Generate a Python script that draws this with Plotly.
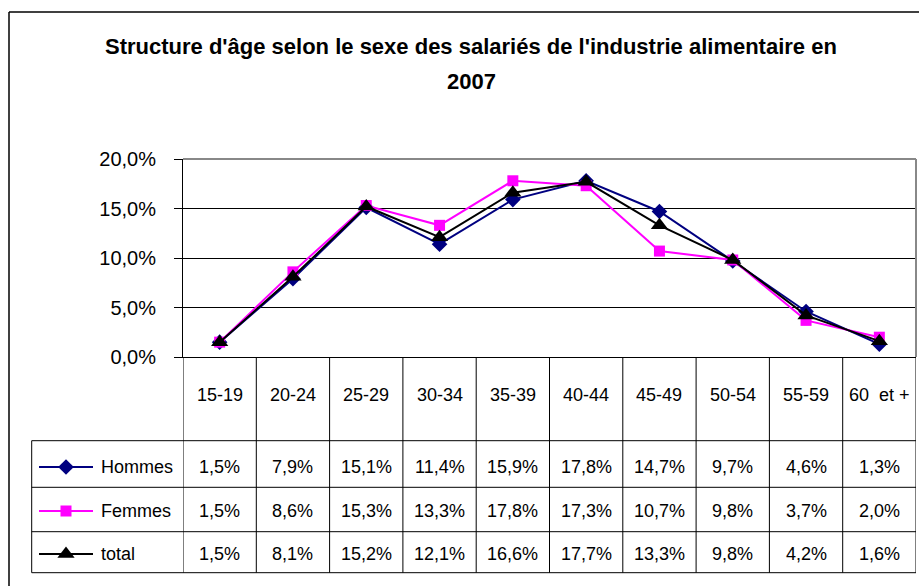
import plotly.graph_objects as go

# ---- data ----
categories = ["15-19", "20-24", "25-29", "30-34", "35-39", "40-44", "45-49", "50-54", "55-59", "60\u00a0 et +"]
hommes = [1.5, 7.9, 15.1, 11.4, 15.9, 17.8, 14.7, 9.7, 4.6, 1.3]
femmes = [1.5, 8.6, 15.3, 13.3, 17.8, 17.3, 10.7, 9.8, 3.7, 2.0]
total = [1.5, 8.1, 15.2, 12.1, 16.6, 17.7, 13.3, 9.8, 4.2, 1.6]
series_names = ["Hommes", "Femmes", "total"]
y_ticks = [0, 5, 10, 15, 20]
y_ticktext = ["0,0%", "5,0%", "10,0%", "15,0%", "20,0%"]
title_line1 = "Structure d'âge selon le sexe des salariés de l'industrie alimentaire en"
title_line2 = "2007"

W, H = 919, 586
def fx(x):
    return x / W
def fy(y):
    return 1 - y / H

FONT = "Liberation Sans, Arial, sans-serif"
styles = [
    dict(color="#000080", symbol="diamond", size=12),
    dict(color="#FF00FF", symbol="square", size=11),
    dict(color="#000000", symbol="triangle-up", size=15),
]
series = [hommes, femmes, total]
xs = list(range(len(categories)))

fig = go.Figure()
for name, vals, st in zip(series_names, series, styles):
    fig.add_trace(go.Scatter(
        x=xs, y=vals, mode="lines+markers", name=name,
        line=dict(color=st["color"], width=2),
        marker=dict(symbol=st["symbol"], size=st["size"], color=st["color"],
                    line=dict(width=0)),
        showlegend=False, hoverinfo="skip", cliponaxis=False,
    ))

# legend keys inside the table (secondary axes in the legend column)
row_centers = [467, 511, 554]
LX0, LX1 = 31.7, 183
LY0, LY1 = 440.7, 572.7
for i, (name, st) in enumerate(zip(series_names, styles)):
    yk = -row_centers[i]
    fig.add_trace(go.Scatter(
        x=[39, 93], y=[yk, yk], mode="lines", line=dict(color=st["color"], width=2),
        xaxis="x2", yaxis="y2", showlegend=False, hoverinfo="skip"))
    fig.add_trace(go.Scatter(
        x=[66], y=[yk], mode="markers",
        marker=dict(symbol=st["symbol"], size=st["size"], color=st["color"], line=dict(width=0)),
        xaxis="x2", yaxis="y2", showlegend=False, hoverinfo="skip"))

annotations = [
    dict(text="<b>" + title_line1 + "</b>", x=fx(471), y=fy(47), xref="paper", yref="paper",
         showarrow=False, font=dict(family=FONT, size=22, color="black"),
         xanchor="center", yanchor="middle"),
    dict(text="<b>" + title_line2 + "</b>", x=fx(471), y=fy(82), xref="paper", yref="paper",
         showarrow=False, font=dict(family=FONT, size=22, color="black"),
         xanchor="center", yanchor="middle"),
]
for i, c in enumerate(categories):
    annotations.append(dict(text=c, x=i, y=fy(395), xref="x", yref="paper",
                            showarrow=False, font=dict(family=FONT, size=18, color="black"),
                            xanchor="center", yanchor="middle"))
for r, vals in enumerate(series):
    for i, v in enumerate(vals):
        annotations.append(dict(text=f"{v:.1f}%".replace(".", ","), x=i, y=fy(row_centers[r]),
                                xref="x", yref="paper", showarrow=False,
                                font=dict(family=FONT, size=18, color="black"),
                                xanchor="center", yanchor="middle"))
    annotations.append(dict(text=series_names[r], x=fx(99), y=fy(row_centers[r]),
                            xref="paper", yref="paper", showarrow=False,
                            font=dict(family=FONT, size=18, color="black"),
                            xanchor="left", yanchor="middle"))

shapes = []
line_k = dict(color="black", width=1)
# table vertical lines at category boundaries
for i in range(len(categories) + 1):
    shapes.append(dict(type="line", xref="x", yref="paper", x0=i - 0.5, x1=i - 0.5,
                       y0=fy(357), y1=fy(LY1), line=line_k))
# table horizontal lines
for yy in [440.7, 487.3, 531.7, 572.7]:
    shapes.append(dict(type="line", xref="paper", yref="paper", x0=fx(LX0), x1=fx(916),
                       y0=fy(yy), y1=fy(yy), line=line_k))
shapes.append(dict(type="line", xref="paper", yref="paper", x0=fx(LX0), x1=fx(LX0),
                   y0=fy(LY0), y1=fy(LY1), line=line_k))
# plot area gray border (top/right)
shapes.append(dict(type="line", xref="paper", yref="paper", x0=fx(183), x1=fx(916),
                   y0=fy(159), y1=fy(159), line=dict(color="#888888", width=2), layer="above"))
shapes.append(dict(type="line", xref="paper", yref="paper", x0=fx(916), x1=fx(916),
                   y0=fy(159), y1=fy(357), line=dict(color="#888888", width=2), layer="above"))
# outer chart border
shapes.append(dict(type="line", xref="paper", yref="paper", x0=fx(9), x1=1,
                   y0=fy(12), y1=fy(12), line=dict(color="black", width=1.5)))
shapes.append(dict(type="line", xref="paper", yref="paper", x0=fx(9), x1=fx(9),
                   y0=fy(12), y1=0, line=dict(color="black", width=1.5)))

fig.update_layout(
    width=W, height=H, autosize=False,
    margin=dict(l=0, r=0, t=0, b=0, pad=0, autoexpand=False),
    paper_bgcolor="white", plot_bgcolor="white",
    separators=", ",
    showlegend=False,
    annotations=annotations,
    shapes=shapes,
    xaxis=dict(domain=[fx(183), fx(916)], range=[-0.5, 9.5], showgrid=False,
               zeroline=False, showticklabels=False, ticks="", automargin=False,
               showline=True, linecolor="black", linewidth=1, fixedrange=True),
    yaxis=dict(domain=[fy(357), fy(159)], range=[0, 20], tickvals=y_ticks,
               ticktext=y_ticktext, showgrid=True, gridcolor="black",
               gridwidth=1, zeroline=False, showline=True, linecolor="black",
               linewidth=1, ticks="outside", ticklen=8, tickcolor="black",
               ticklabelstandoff=14, automargin=False,
               tickfont=dict(family=FONT, size=20, color="black"), fixedrange=True),
    xaxis2=dict(domain=[fx(LX0), fx(LX1)], range=[LX0, LX1], visible=False,
                anchor="y2", fixedrange=True, automargin=False),
    yaxis2=dict(domain=[fy(LY1), fy(LY0)], range=[-LY1, -LY0], visible=False,
                anchor="x2", fixedrange=True, automargin=False),
)

page_css = "document.body.style.margin='0';document.body.style.overflow='hidden';"
fig.write_html("out.html", post_script=page_css, config={"displayModeBar": False})
